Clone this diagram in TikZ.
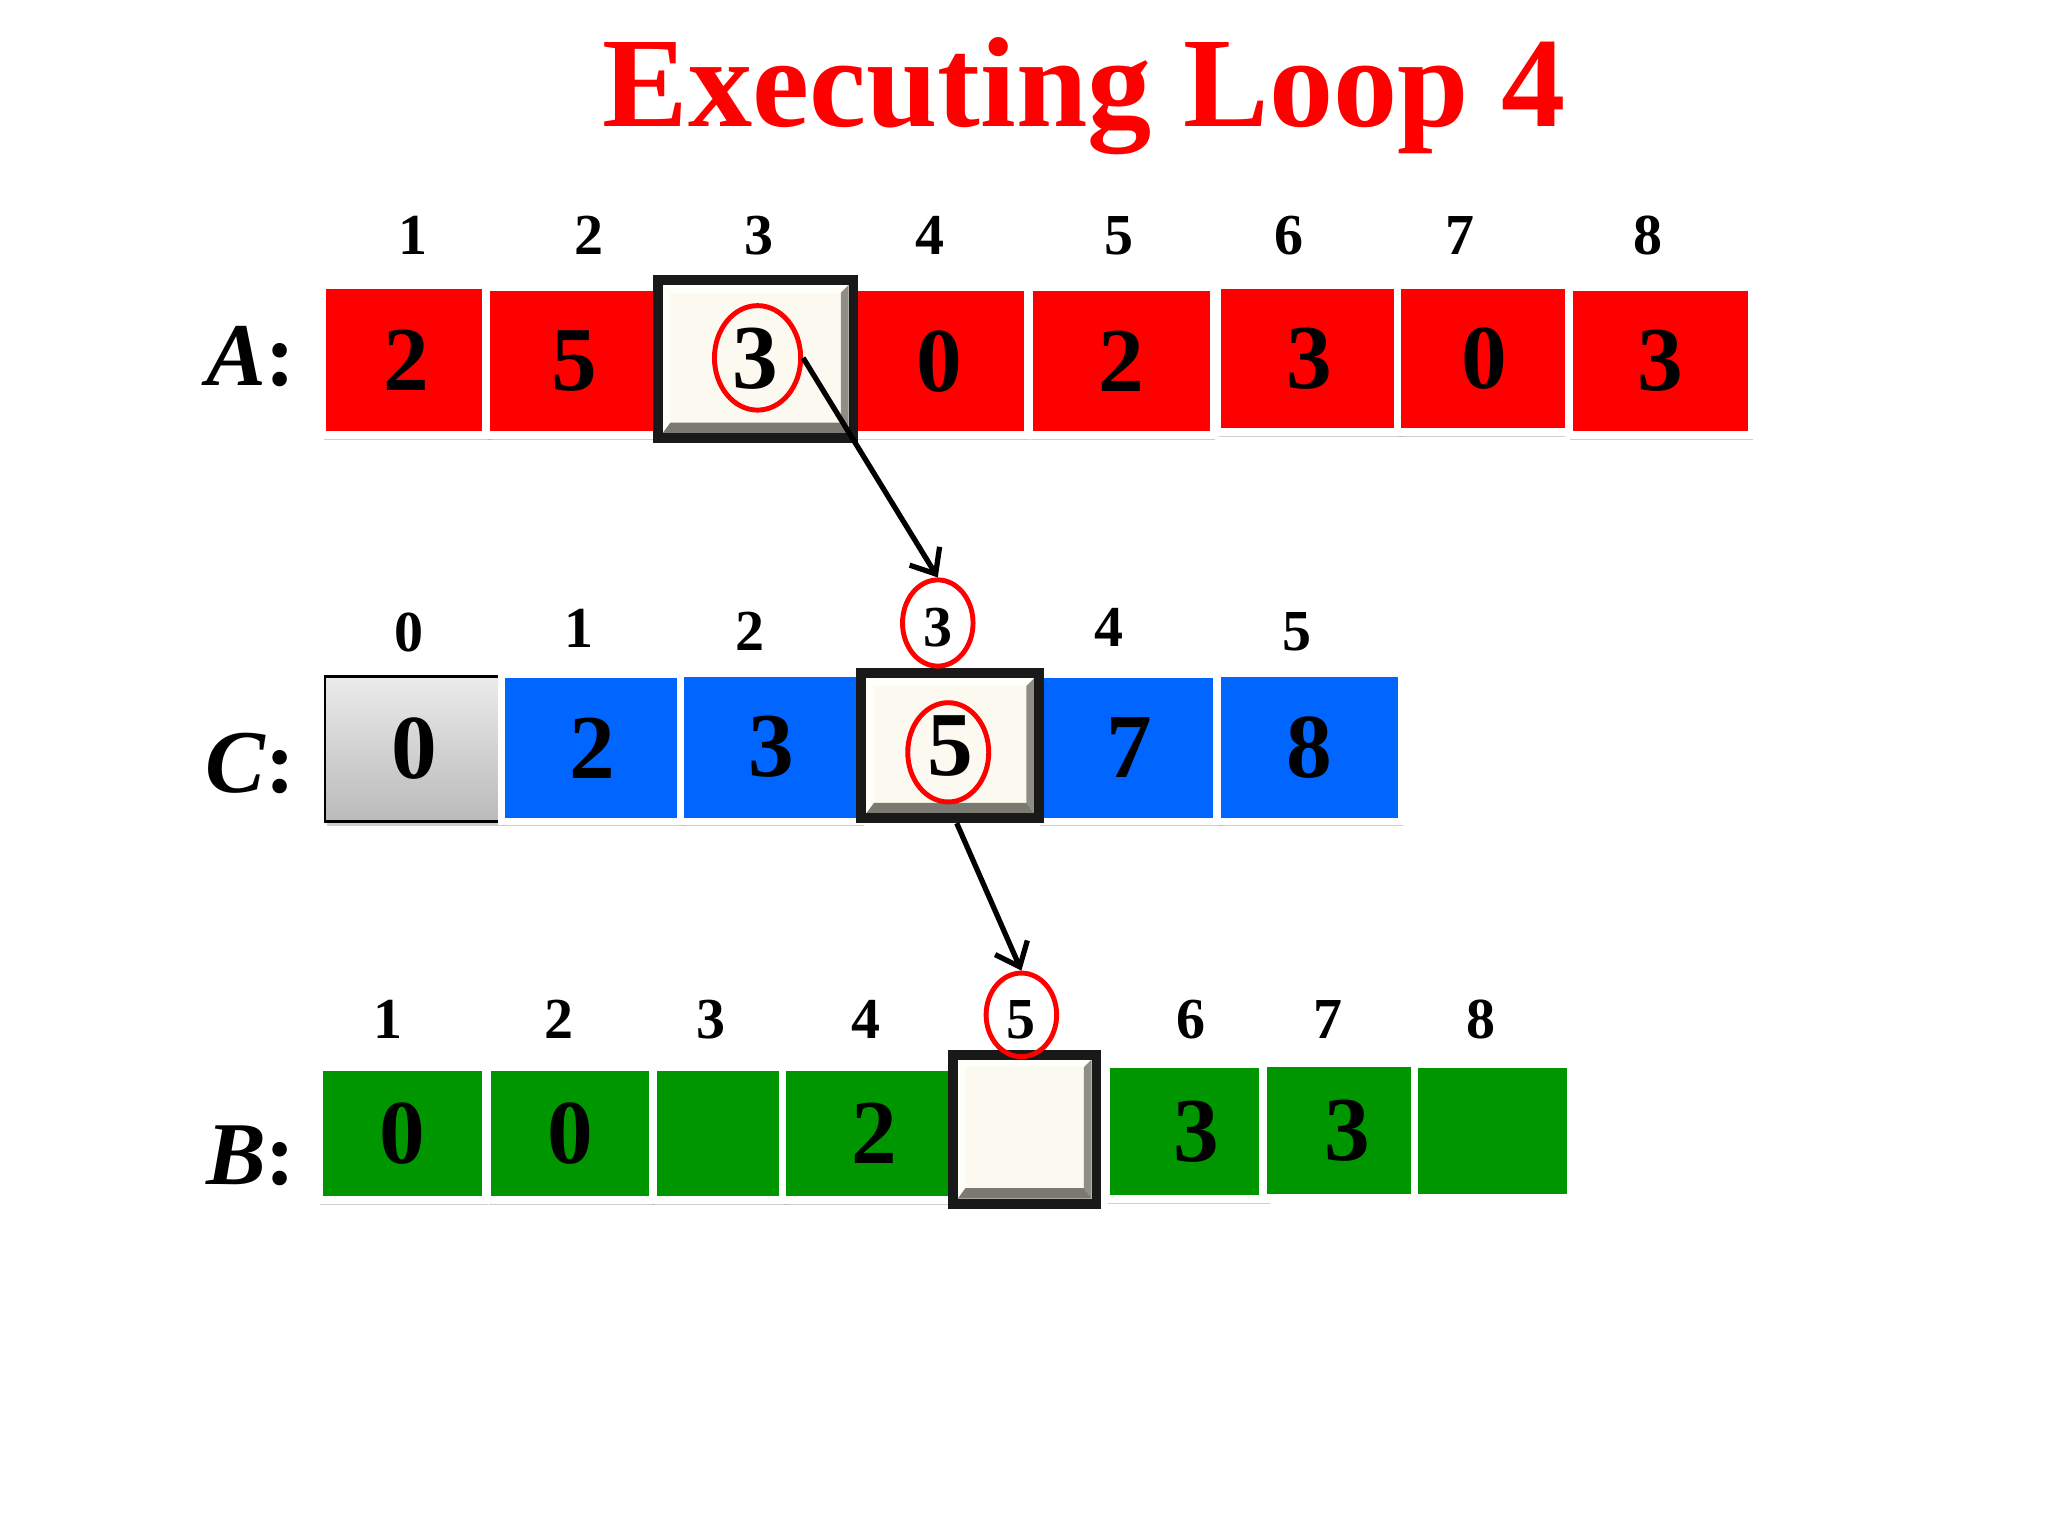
\documentclass[tikz,border=0pt]{standalone}
\usepackage{fontspec}
\setmainfont{Liberation Serif}
\usetikzlibrary{shapes.geometric,shadows,calc,arrows.meta}
\definecolor{cRed}{HTML}{FF0000}
\definecolor{cBlue}{HTML}{0066FF}
\definecolor{cGreen}{HTML}{009600}
\definecolor{cCream}{HTML}{FBF9F0}
\definecolor{cBevTop}{HTML}{FFFFFA}
\definecolor{cBevSide}{HTML}{8E8E86}
\definecolor{cBevBot}{HTML}{7A7A72}
\def\pu{0.013061cm}
\newcommand\mycell[7]{\node[#6, minimum width=#4*\pu, minimum height=#5*\pu] (#1) at (#2,#3) {#7};}
\tikzset{
  valfont/.style={font=\fontsize{26}{26}\selectfont\bfseries},
  idxfont/.style={font=\fontsize{16.5}{16.5}\selectfont\bfseries, anchor=base, inner sep=0},
  rowlab/.style={font=\fontsize{25.5}{25.5}\selectfont\bfseries, anchor=base east, inner sep=0},
  cellbase/.style={rectangle, inner sep=0, valfont, draw=white, line width=2.2pt,
     drop shadow={shadow xshift=0.5pt, shadow yshift=-1.3pt, fill=black!35, opacity=0.55}},
  redcell/.style={cellbase, fill=cRed},
  bluecell/.style={cellbase, fill=cBlue},
  greencell/.style={cellbase, fill=cGreen},
  graycell/.style={rectangle, inner sep=0, valfont, draw=black, line width=0.7pt,
     top color=black!8, bottom color=black!27,
     drop shadow={shadow xshift=0.5pt, shadow yshift=-1.3pt, fill=black!35, opacity=0.55}},
  hlcell/.style={rectangle, inner sep=0, valfont, fill=cCream, draw=black!90, line width=2.8pt,
     path picture={
       \path (path picture bounding box.south west) ++(1.4pt,1.4pt) coordinate (bSW);
       \path (path picture bounding box.north east) ++(-1.4pt,-1.4pt) coordinate (bNE);
       \path (bSW |- bNE) coordinate (bNW);
       \path (bNE |- bSW) coordinate (bSE);
       \fill[cBevTop] (bNW) -- (bNE) -- ($(bNE)+(-2.2pt,-2.2pt)$) -- ($(bNW)+(2.2pt,-2.2pt)$) -- cycle;
       \fill[cBevTop] (bNW) -- (bSW) -- ($(bSW)+(2.2pt,2.2pt)$) -- ($(bNW)+(2.2pt,-2.2pt)$) -- cycle;
       \fill[cBevSide] (bNE) -- (bSE) -- ($(bSE)+(-2.2pt,3pt)$) -- ($(bNE)+(-2.2pt,-2.2pt)$) -- cycle;
       \fill[cBevBot] (bSW) -- (bSE) -- ($(bSE)+(-2.2pt,3pt)$) -- ($(bSW)+(2.2pt,3pt)$) -- cycle;
     }},
  redring/.style={ellipse, draw=cRed, line width=1.4pt, inner sep=0},
  pointer/.style={draw=black, line width=1.5pt, -{Straight Barb[length=6pt,width=10pt,line width=1.5pt]}},
}
\begin{document}
\begin{tikzpicture}[x=\pu, y=-\pu]
\useasboundingbox (0,0) rectangle (1568,1176);
\fill[white] (0,0) rectangle (1568,1176);

% title
\node[font=\fontsize{36.5}{36.5}\selectfont\bfseries, text=cRed, anchor=base, inner sep=0] (title) at (830,97) {Executing Loop 4};

% ---------- row A ----------
\node[rowlab] (labA) at (227,295) {\textit{A}:};
\foreach \x/\t [count=\i] in {316/1,451/2,581/3,712/4,857/5,987/6,1118/7,1262/8}
  \node[idxfont] (iA\i) at (\x,195) {\t};
\mycell{A1}{311}{275.5}{128}{115}{redcell}{2}
\mycell{A2}{439.5}{276.5}{135}{113}{redcell}{5}
\mycell{A4}{719}{276.5}{136}{113}{redcell}{0}
\mycell{A5}{858.5}{276.5}{141}{113}{redcell}{2}
\mycell{A6}{1002.5}{274.5}{141}{113}{redcell}{3}
\mycell{A7}{1136.5}{274.5}{133}{113}{redcell}{0}
\mycell{A8}{1271}{276.5}{140}{113}{redcell}{3}
\mycell{A3}{578.5}{275}{150}{121}{hlcell}{3}
\node[redring, minimum width=66*\pu, minimum height=80*\pu] (eA) at (580,274) {};

% ---------- row C ----------
\node[rowlab] (labC) at (227,607) {\textit{C}:};
\foreach \x/\y/\t [count=\i] in {313/499/0,443/496/1,574/498/2,718/495/3,849/495/4,993/498/5}
  \node[idxfont] (iC\i) at (\x,\y) {\t};
\mycell{C0}{317}{573.5}{136}{111}{graycell}{0}
\mycell{C1}{453.5}{572.5}{139}{113}{bluecell}{2}
\mycell{C2}{590.5}{572}{139}{114}{bluecell}{3}
\mycell{C4}{865}{572.5}{140}{113}{bluecell}{7}
\mycell{C5}{1002.5}{572}{141}{114}{bluecell}{8}
\mycell{C3}{727.5}{571}{136}{111}{hlcell}{5}
\node[redring, minimum width=54*\pu, minimum height=66*\pu] (eC) at (718,477) {};
\node[redring, minimum width=62*\pu, minimum height=76*\pu] (eC5) at (726,576) {};

% ---------- row B ----------
\node[rowlab] (labB) at (227,907) {\textit{B}:};
\foreach \x/\t [count=\i] in {297/1,428/2,544/3,663/4,782/5,912/6,1017/7,1134/8}
  \node[idxfont] (iB\i) at (\x,795) {\t};
\mycell{B3}{550}{868}{104}{102}{greencell}{}
\mycell{B1}{308}{868}{128}{102}{greencell}{0}
\mycell{B2}{436.5}{868}{127}{102}{greencell}{0}
\mycell{B4}{669.5}{868}{141}{102}{greencell}{2}
\mycell{B6}{909}{866.5}{124}{103}{greencell}{\hspace*{5pt}3}
\mycell{B7}{1026.5}{865.5}{119}{103}{greencell}{\hspace*{4pt}3}
\mycell{B8}{1143}{866}{120}{102}{greencell}{}
\mycell{B5}{784.5}{864.5}{110}{114}{hlcell}{}
\node[redring, minimum width=54*\pu, minimum height=64*\pu] (eB) at (782,777) {};

% ---------- pointers ----------
\draw[pointer] (eA.east) -- (eC.north);
\draw[pointer] ($(C3.south)+(5,0)$) -- (eB.north);
\end{tikzpicture}
\end{document}
